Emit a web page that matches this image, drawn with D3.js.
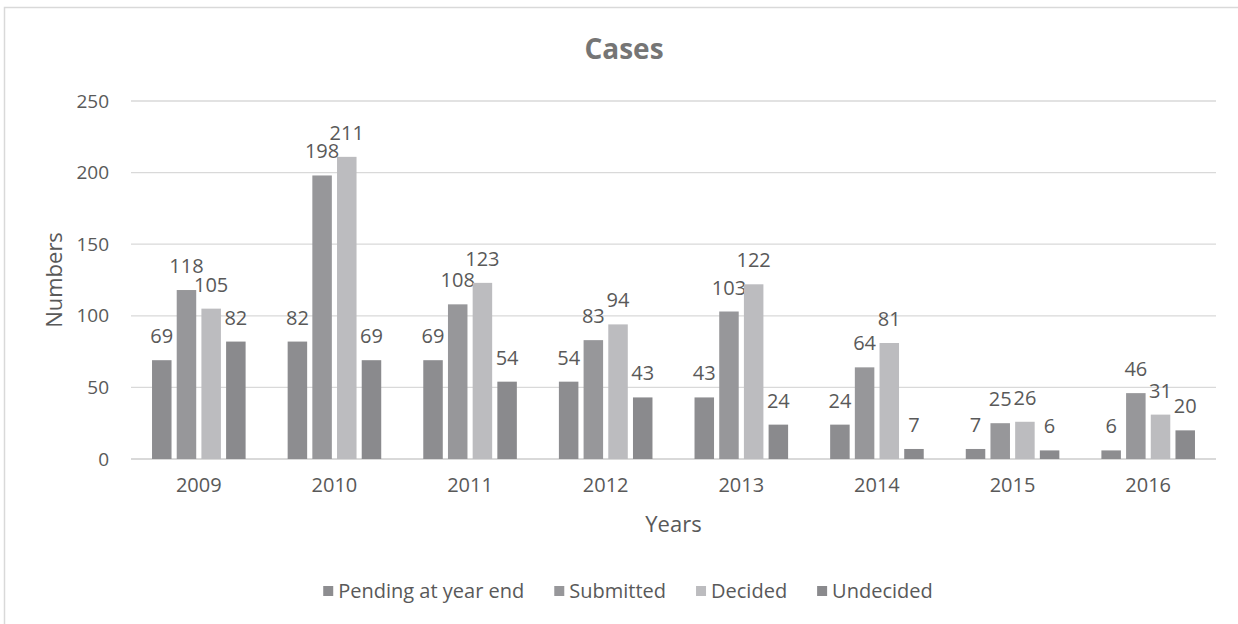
<!DOCTYPE html>
<html>
<head>
<meta charset="utf-8">
<script src="https://cdn.jsdelivr.net/npm/d3@7"></script>
<style>
  body { margin: 0; background: #fff; }
  svg { display: block; font-family: "Open Sans", sans-serif; }
</style>
</head>
<body>
<div id="chart"></div>
<script>
// data
var years = ['2009', '2010', '2011', '2012', '2013', '2014', '2015', '2016'];
var seriesNames = ['Pending at year end', 'Submitted', 'Decided', 'Undecided'];
var pending = [69, 82, 69, 54, 43, 24, 7, 6];
var submitted = [118, 198, 108, 83, 103, 64, 25, 46];
var decided = [105, 211, 123, 94, 122, 81, 26, 31];
var undecided = [82, 69, 54, 43, 24, 7, 6, 20];
var yTicks = [0, 50, 100, 150, 200, 250];

var seriesValues = [pending, submitted, decided, undecided];
var colors = ['#8d8d90', '#97979a', '#bcbcbf', '#8a8a8d'];

var width = 1238, height = 624;
var plot = { left: 131, right: 1216, top: 101, bottom: 459 };

var svg = d3.select('#chart').append('svg')
    .attr('width', width)
    .attr('height', height);

// outer frame (only left/top visible in the reference)
svg.append('rect')
    .attr('x', 4.5).attr('y', 7.5)
    .attr('width', 1300).attr('height', 700)
    .attr('fill', 'none')
    .attr('stroke', '#d9d9d9')
    .attr('stroke-width', 1.5);

var x = d3.scaleBand()
    .domain(years)
    .range([plot.left, plot.right])
    .paddingInner(0.31)
    .paddingOuter(0.155);

var xs = d3.scaleBand()
    .domain(d3.range(seriesNames.length))
    .range([0, x.bandwidth()])
    .paddingInner(0.21);

var y = d3.scaleLinear()
    .domain([0, 250])
    .range([plot.bottom, plot.top]);

// gridlines
svg.append('g').selectAll('line')
    .data(yTicks)
    .enter()
    .append('line')
    .attr('x1', plot.left).attr('x2', plot.right)
    .attr('y1', function(d) { return y(d); })
    .attr('y2', function(d) { return y(d); })
    .attr('stroke', '#d9d9d9')
    .attr('stroke-width', function(d) { return d === 0 ? 2 : 1.3; });

// y axis labels
var yAxis = svg.append('g')
    .attr('transform', 'translate(' + (plot.left - 22) + ',0)')
    .call(d3.axisLeft(y).tickValues(yTicks).tickSize(0).tickPadding(0));
yAxis.select('.domain').remove();
yAxis.selectAll('text')
    .attr('fill', '#595959')
    .style('font-size', '19px')
    .style('font-family', '"Open Sans", sans-serif');

// x axis labels
var xAxis = svg.append('g')
    .attr('transform', 'translate(0,' + (plot.bottom + 19) + ')')
    .call(d3.axisBottom(x).tickSize(0).tickPadding(0));
xAxis.select('.domain').remove();
xAxis.selectAll('text')
    .attr('fill', '#595959')
    .style('font-size', '20px')
    .style('font-family', '"Open Sans", sans-serif');

// bars
var groups = svg.append('g').selectAll('g')
    .data(years)
    .enter()
    .append('g')
    .attr('transform', function(d) { return 'translate(' + x(d) + ',0)'; });

var cells = groups.selectAll('g')
    .data(function(yr, i) {
        return seriesValues.map(function(vals, s) { return { s: s, v: vals[i] }; });
    })
    .enter()
    .append('g');

cells.append('rect')
    .attr('x', function(d) { return xs(d.s); })
    .attr('y', function(d) { return y(d.v); })
    .attr('width', xs.bandwidth())
    .attr('height', function(d) { return y(0) - y(d.v); })
    .attr('fill', function(d) { return colors[d.s]; });

cells.append('text')
    .attr('x', function(d) { return xs(d.s) + xs.bandwidth() / 2; })
    .attr('y', function(d) { return y(d.v) - 17; })
    .attr('text-anchor', 'middle')
    .attr('fill', '#595959')
    .style('font-size', '20px')
    .text(function(d) { return d.v; });

// title
svg.append('text')
    .attr('x', 624).attr('y', 59)
    .attr('text-anchor', 'middle')
    .attr('fill', '#757575')
    .style('font-size', '28px')
    .style('font-weight', 'bold')
    .text('Cases');

// axis titles
svg.append('text')
    .attr('x', (plot.left + plot.right) / 2).attr('y', 532)
    .attr('text-anchor', 'middle')
    .attr('fill', '#595959')
    .style('font-size', '22px')
    .text('Years');

svg.append('text')
    .attr('transform', 'translate(62,' + (plot.top + plot.bottom) / 2 + ') rotate(-90)')
    .attr('text-anchor', 'middle')
    .attr('fill', '#595959')
    .style('font-size', '22px')
    .text('Numbers');

// legend
var legend = svg.append('g');
var legendItems = legend.selectAll('g')
    .data(seriesNames)
    .enter()
    .append('g');
legendItems.append('rect')
    .attr('width', 10).attr('height', 10)
    .attr('y', -12)
    .attr('fill', function(d, i) { return colors[i]; });
legendItems.append('text')
    .attr('x', 15)
    .attr('fill', '#595959')
    .style('font-size', '20px')
    .text(function(d) { return d; });

var offset = 0;
legendItems.each(function() {
    var g = d3.select(this);
    g.attr('transform', 'translate(' + offset + ',0)');
    offset += 15 + g.select('text').node().getComputedTextLength() + 30;
});
offset -= 30;
legend.attr('transform', 'translate(' + (628 - offset / 2) + ',598)');
</script>
</body>
</html>
